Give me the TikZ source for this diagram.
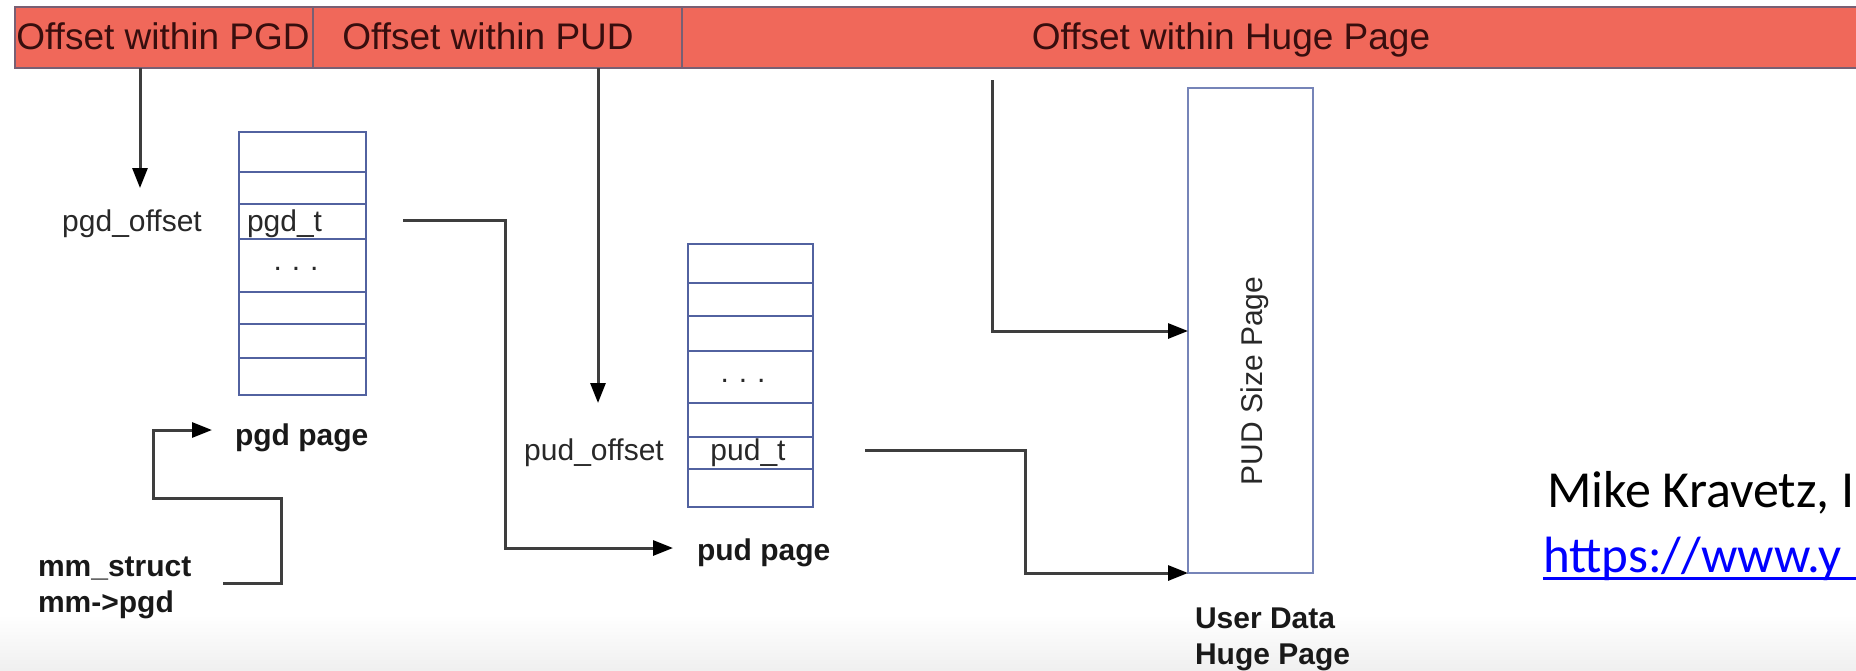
\documentclass[tikz,border=0pt]{standalone}
\usepackage{fontspec}
\setmainfont{Liberation Sans}
\newfontfamily\slidefont{Carlito}
\usetikzlibrary{arrows.meta}

\definecolor{barred}{RGB}{240,104,90}
\definecolor{barline}{RGB}{120,95,115}
\definecolor{bartextcol}{RGB}{55,14,14}
\definecolor{tabline}{RGB}{82,98,160}
\definecolor{pageline}{RGB}{118,132,184}
\definecolor{connline}{RGB}{62,62,62}
\definecolor{labeltext}{RGB}{40,40,40}
\definecolor{linkblue}{RGB}{0,0,255}

\begin{document}
\begin{tikzpicture}[x=1pt,y=-1pt,
  every node/.style={inner sep=0pt, outer sep=0pt},
  barseg/.style={rectangle, draw=barline, line width=2pt, fill=barred, anchor=north west, minimum height=61},
  bartext/.style={anchor=base, text=bartextcol, font=\fontsize{37}{42}\selectfont},
  cell/.style={rectangle, draw=tabline, line width=2.5pt, anchor=north west},
  lbl/.style={text=labeltext, font=\fontsize{30}{36}\selectfont},
  boldlbl/.style={text=black!90, font=\fontsize{30}{36}\selectfont\bfseries, anchor=base west},
  conn/.style={draw=connline, line width=3pt, line join=miter,
    -{Triangle[length=20pt,width=15pt,color=black]}}
]
\useasboundingbox (0,0) rectangle (1856,670);
\clip (0,0) rectangle (1856,670);

% soft grey floor of the slide
\shade[top color=white, bottom color=black!6] (0,615) rectangle (1856,670);

% virtual address split into its three fields
\node[barseg, minimum width=298] (seg1) at (15,7) {};
\node[barseg, minimum width=369] (seg2) at (313,7) {};
\node[barseg, minimum width=1180] (seg3) at (682,7) {};
\node[bartext] (f1) at (163,49) {Offset within PGD};
\node[bartext] (f2) at (488,49) {Offset within PUD};
\node[bartext] (f3) at (1231,49) {Offset within Huge Page};

% pgd page table
\node[cell, minimum width=127, minimum height=40] (g1) at (239,132) {};
\node[cell, minimum width=127, minimum height=32] (g2) at (239,172) {};
\node[cell, minimum width=127, minimum height=35] (g3) at (239,204) {};
\node[cell, minimum width=127, minimum height=53] (g4) at (239,239) {};
\node[cell, minimum width=127, minimum height=32] (g5) at (239,292) {};
\node[cell, minimum width=127, minimum height=34] (g6) at (239,324) {};
\node[cell, minimum width=127, minimum height=37] (g7) at (239,358) {};
\node[lbl, anchor=base] (pgdoff) at (132,231) {pgd\_offset};
\node[lbl, anchor=base west] (pgdt) at (247,231) {pgd\_t};
\node[lbl, anchor=base] (gdots) at (296,270) {.\,\,.\,\,.};
\node[boldlbl] (pgdpage) at (235,445) {pgd page};

% mm_struct
\node[boldlbl] (mm1) at (38,576) {mm\_struct};
\node[boldlbl] (mm2) at (38,612) {mm->pgd};

% pud page table
\node[cell, minimum width=125, minimum height=39] (u1) at (688,244) {};
\node[cell, minimum width=125, minimum height=33] (u2) at (688,283) {};
\node[cell, minimum width=125, minimum height=35] (u3) at (688,316) {};
\node[cell, minimum width=125, minimum height=52] (u4) at (688,351) {};
\node[cell, minimum width=125, minimum height=34] (u5) at (688,403) {};
\node[cell, minimum width=125, minimum height=32] (u6) at (688,437) {};
\node[cell, minimum width=125, minimum height=38] (u7) at (688,469) {};
\node[lbl, anchor=base] (pudoff) at (594,460) {pud\_offset};
\node[lbl, anchor=base] (pudt) at (748,460) {pud\_t};
\node[lbl, anchor=base] (udots) at (743,382) {.\,\,.\,\,.};
\node[boldlbl] (pudpage) at (697,560) {pud page};

% the huge page itself
\node[rectangle, draw=pageline, line width=2.5pt, anchor=north west,
      minimum width=125, minimum height=485] (hp) at (1188,88) {};
\node[lbl, rotate=90, anchor=base] (hptext) at (1262,381) {PUD Size Page};
\node[boldlbl] (ud1) at (1195,628) {User Data};
\node[boldlbl] (ud2) at (1195,664) {Huge Page};

% credit line
\node[anchor=base west, font=\slidefont\fontsize{52}{60}\selectfont] (credit) at (1547,507) {Mike Kravetz, I};
\node[anchor=base west, text=linkblue, font=\slidefont\fontsize{51}{60}\selectfont] (url) at (1543,572) {https://www.y};
\coordinate (rimright) at (1860,0);
\draw[linkblue, line width=3.5pt] ([yshift=-6.5pt]url.base west) -- ([yshift=-6.5pt]url.base west -| rimright);

% connector end points
\coordinate (pgdtap) at (140,68);
\coordinate (pgdhit) at (140,188);
\coordinate (mmout) at (223,583);
\coordinate (mmc1) at (281,583);
\coordinate (mmc2) at (281,498);
\coordinate (mmc3) at (153,498);
\coordinate (mmc4) at (153,430);
\coordinate (mmhit) at (212,430);
\coordinate (gout) at (403,220);
\coordinate (gc1) at (505,220);
\coordinate (gc2) at (505,548);
\coordinate (ghit) at (673,548);
\coordinate (pudtap) at (598,68);
\coordinate (pudhit) at (598,403);
\coordinate (uout) at (865,450);
\coordinate (uc1) at (1025,450);
\coordinate (uc2) at (1025,573);
\coordinate (hugetap) at (992,80);
\coordinate (hc1) at (992,331);
\coordinate (hphit) at (1188,331);

% walks through the tables
\draw[conn] (pgdtap) -- (pgdhit);
\draw[conn] (mmout) -- (mmc1) -- (mmc2) -- (mmc3) -- (mmc4) -- (mmhit);
\draw[conn] (gout) -- (gc1) -- (gc2) -- (ghit);
\draw[conn] (pudtap) -- (pudhit);
\draw[conn] (uout) -- (uc1) -- (uc2) -- (hp.south west);
\draw[conn] (hugetap) -- (hc1) -- (hphit);
\end{tikzpicture}
\end{document}
